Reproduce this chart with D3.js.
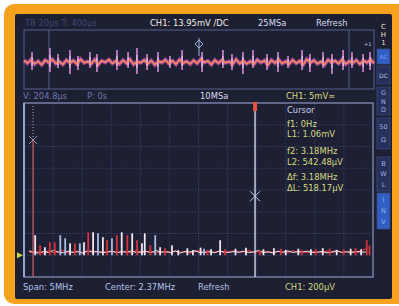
<!DOCTYPE html>
<html>
<head>
<meta charset="utf-8">
<script src="https://d3js.org/d3.v7.min.js"></script>
<style>
  body { margin: 0; background: #fff; }
  svg { display: block; font-family: "DejaVu Sans", sans-serif; }
</style>
</head>
<body>
<div id="chart"></div>
<script>
// ---- data ----
// top trace: time domain (us), spikes in mV
var spikeTimes = [4.7, 15.2, 19.9, 26.9, 31.6, 38.6, 42.7, 54.4, 60.9, 66.1, 72.0, 78.4, 85.4, 92.5, 104.2,
                  116.4, 121.7, 128.1, 134.0, 142.2, 148.6, 154.5, 162.7, 167.3, 175.0, 180.2, 186.7, 191.9, 198.4, 202.5];
var spikeUp   = [5, 7, 4, 6, 3, 5, 4, 6, 5, 7, 4, 5, 3, 6, 5, 6, 4, 5, 6, 4, 5, 3, 6, 4, 5, 4, 6, 5, 4, 5];
var spikeDown = [-4, -5, -3, -6, -4, -3, -5, -4, -3, -6, -4, -5, -3, -4, -5, -3, -4, -6, -3, -4, -5, -3, -4, -5, -3, -6, -4, -3, -5, -4];
var traceNoise = [0.8,-0.6,1.2,-1.0,0.4,-1.4,0.9,-0.3,1.3,-0.8,0.2,-1.2,1.0,-0.5,0.7,-1.1,1.4,-0.4,0.3,-0.9,
                  1.1,-1.3,0.6,-0.2,1.2,-0.7,0.5,-1.0,0.9,-0.6,1.3,-1.2,0.2,-0.4,1.0,-0.9,0.7,-1.4,0.4,-0.3,
                  1.1,-0.8,0.6,-1.1,1.2,-0.5,0.3,-1.0,0.8,-0.7,1.4,-0.2,0.5,-1.3,0.9,-0.6,1.0,-0.4,0.2,-1.2,
                  1.3,-0.8,0.6,-0.9,0.4,-1.1,1.1,-0.3,0.7,-1.4,0.9,-0.5,1.2,-0.7,0.3,-1.0,1.0,-0.6,0.5,-1.2,
                  1.4,-0.4,0.8,-0.9,0.2,-1.3,1.1,-0.2,0.6,-0.8,1.3,-1.1,0.4,-0.5,0.9,-1.0,0.7,-0.3,1.2,-0.7];

// spectrum peaks (MHz, uV)
var whiteFreq = [0.03, 0.17, 0.53, 0.73, 0.86, 1.00, 1.27, 1.42, 1.56, 1.60, 1.82, 1.99, 2.08, 2.21, 2.29, 2.40, 2.55, 2.68,
                 2.90, 3.05, 3.30, 3.45, 3.62, 3.80, 3.98, 4.15, 4.35, 4.55, 4.70];
var whiteAmp  = [184, 74, 110, 120, 211, 166, 211, 202, 110, 202, 74, 92, 46, 64, 46, 70, 55, 138,
                 60, 70, 55, 65, 50, 60, 55, 65, 50, 60, 55];
var redFreq = [0.10, 0.24, 0.31, 0.60, 0.79, 1.06, 1.20, 1.35, 1.49, 1.68, 1.89, 2.50, 2.75, 3.25, 3.55, 3.85,
               4.05, 4.25, 4.45, 4.62, 4.78, 4.82];
var redAmp  = [92, 120, 120, 110, 211, 138, 184, 184, 138, 92, 64, 50, 55, 45, 60, 50,
               55, 60, 55, 65, 138, 90];
var blueFreq = [0.39, 0.46, 0.67, 0.93, 1.13, 1.75, 2.45];
var blueAmp  = [184, 156, 110, 202, 156, 184, 60];

// noise floor, 70 bins of 0.07 MHz starting at -0.06 MHz
var floorStart = -0.06, floorStep = 0.07;
var floorRed = [30,22,35,18,40,25,28,45,20,32,38,24,30,42,26,35,22,40,30,28,36,20,44,26,32,38,22,30,35,25,
                40,28,33,20,36,42,24,30,27,38,22,34,40,26,30,45,24,32,28,36,20,38,30,25,42,28,33,22,36,30,
                26,40,24,35,30,28,38,22,45,60];
var floorWhite = [40,28,20,35,25,45,30,22,38,26,32,20,42,28,35,24,30,38,22,34,28,40,25,30,36,22,44,28,32,26,
                  38,20,35,30,42,24,28,36,22,40,30,26,34,28,38,24,32,44,26,30,22,36,28,40,25,33,30,38,24,28,
                  35,22,30,42,26,32,24,36,28,30];

// cursors
var cursorF1 = 0, cursorL1 = 1060;
var cursorF2 = 3.18, cursorL2 = 542.48;
var cursorLines = ["f1: 0Hz", "L1: 1.06mV", "f2: 3.18MHz", "L2: 542.48\u00b5V", "\u0394f: 3.18MHz", "\u0394L: 518.17\u00b5V"];
var sideButtons = [
  {label: ["A", "C"], on: true, y0: 49, y1: 64, inline: true},
  {label: ["D", "C"], on: false, y0: 66, y1: 84, inline: true},
  {label: ["G", "N", "D"], on: false, y0: 87, y1: 115},
  {label: ["50", "\u03a9"], on: false, y0: 118, y1: 149},
  {label: ["B", "W", "L"], on: false, y0: 157, y1: 191},
  {label: ["I", "N", "V"], on: true, y0: 193, y1: 229}
];

var W = 399, H = 306;
var svg = d3.select("#chart").append("svg").attr("width", W).attr("height", H);

// frame
svg.append("rect").attr("x", 4).attr("y", 4).attr("width", 410).attr("height", 300).attr("rx", 10)
  .attr("fill", "#f6a21e");
svg.append("rect").attr("x", 15).attr("y", 14).attr("width", 377).attr("height", 285).attr("rx", 2)
  .attr("fill", "#1d1f33");

var txtFont = 8.4;
function label(x, y, t, col, anchor){
  return svg.append("text").attr("x", x).attr("y", y).text(t)
    .attr("fill", col).attr("font-size", txtFont).attr("text-anchor", anchor || "start");
}

// header
label(25, 26, "TB 20\u00b5s    T: 400\u00b5s", "#3d4a78");
label(150, 26, "CH1: 13.95mV /DC", "#f2f0e6");
label(258, 26, "25MSa", "#d8dcf0");
label(316, 26, "Refresh", "#d8dcf0");

// ---- top time-domain window ----
var topBox = {x0: 24, x1: 374, y0: 30, y1: 89};
var tx = d3.scaleLinear().domain([0, 204.8]).range([topBox.x0, topBox.x1]);
var ty = d3.scaleLinear().domain([-14.5, 14.5]).range([91, 33]);

svg.append("rect").attr("x", topBox.x0).attr("y", topBox.y0).attr("width", topBox.x1 - topBox.x0).attr("height", topBox.y1 - topBox.y0)
  .attr("fill", "none").attr("stroke", "#56608a").attr("stroke-width", 1);
svg.append("line").attr("x1", 49).attr("x2", 49).attr("y1", topBox.y0).attr("y2", topBox.y1).attr("stroke", "#56608a");
svg.append("line").attr("x1", 349).attr("x2", 349).attr("y1", topBox.y0).attr("y2", topBox.y1).attr("stroke", "#56608a");

var noiseStep = 204.8 / (traceNoise.length - 1);
var traceLine = d3.line()
  .x(function(d, i){ return tx(i * noiseStep); })
  .y(function(d){ return ty(d); });

svg.append("path").datum(traceNoise).attr("d", traceLine)
  .attr("fill", "none").attr("stroke", "#c24fb4").attr("stroke-width", 4).attr("opacity", 0.75);

// spikes
var spikes = spikeTimes.map(function(t, i){ return {t: t, up: spikeUp[i], down: spikeDown[i]}; });
svg.append("g").selectAll("line").data(spikes).enter().append("line")
  .attr("x1", function(d){ return tx(d.t); })
  .attr("x2", function(d){ return tx(d.t); })
  .attr("y1", function(d){ return ty(d.up); })
  .attr("y2", function(d){ return ty(d.down); })
  .attr("stroke", "#d58ad8").attr("stroke-width", 1.6);
svg.append("g").selectAll("line").data(spikes).enter().append("line")
  .attr("x1", function(d){ return tx(d.t); })
  .attr("x2", function(d){ return tx(d.t); })
  .attr("y1", function(d){ return ty(d.up * 0.5); })
  .attr("y2", function(d){ return ty(d.down * 0.5); })
  .attr("stroke", "#f3d6f0").attr("stroke-width", 1);

svg.append("path").datum(traceNoise).attr("d", traceLine)
  .attr("fill", "none").attr("stroke", "#f07a48").attr("stroke-width", 1.6);
svg.append("path").datum(traceNoise).attr("d", traceLine)
  .attr("fill", "none").attr("stroke", "#f6c0b0").attr("stroke-width", 0.6).attr("opacity", 0.8);

// trigger marker
svg.append("line").attr("x1", 199).attr("x2", 199).attr("y1", 38).attr("y2", 56).attr("stroke", "#9fb4e0").attr("stroke-width", 1);
svg.append("path").attr("d", "M195,44 L199,40 L203,44 L199,48 Z").attr("fill", "none").attr("stroke", "#9fb4e0");
label(364, 46, "+1", "#c0c8e0").attr("font-size", 5);

// second header row
label(23, 99, "V: 204.8\u00b5s", "#6c7aa8");
label(87, 99, "P: 0s", "#6c7aa8");
label(200, 99, "10MSa", "#d8dcf0");
label(286, 99, "CH1: 5mV\u2248", "#d2dc7c");

// ---- spectrum window ----
var sp = {x0: 24, x1: 373, y0: 103, y1: 277};
var fx = d3.scaleLinear().domain([2.37 - 2.5, 2.37 + 2.5]).range([sp.x0, sp.x1]);
var fy = d3.scaleLinear().domain([-200, 1400]).range([sp.y1, sp.y0]);

var grid = svg.append("g");
grid.selectAll(".gx").data(d3.range(1, 12)).enter().append("line")
  .attr("x1", function(d){ return sp.x0 + d * (sp.x1 - sp.x0) / 12; })
  .attr("x2", function(d){ return sp.x0 + d * (sp.x1 - sp.x0) / 12; })
  .attr("y1", sp.y0).attr("y2", sp.y1)
  .attr("stroke", "#31365a").attr("stroke-width", 1).attr("stroke-dasharray", "2,1");
grid.selectAll(".gy").data(d3.range(-200, 1400, 200).slice(1)).enter().append("line")
  .attr("x1", sp.x0).attr("x2", sp.x1)
  .attr("y1", function(d){ return fy(d); })
  .attr("y2", function(d){ return fy(d); })
  .attr("stroke", "#31365a").attr("stroke-width", 1).attr("stroke-dasharray", "2,1");

svg.append("rect").attr("x", sp.x0).attr("y", sp.y0).attr("width", sp.x1 - sp.x0).attr("height", sp.y1 - sp.y0)
  .attr("fill", "none").attr("stroke", "#8d97c2").attr("stroke-width", 1.2);
svg.append("line").attr("x1", sp.x0).attr("x2", sp.x0).attr("y1", sp.y0).attr("y2", sp.y1)
  .attr("stroke", "#a6bce8").attr("stroke-width", 1.5);

// noise floors
var floorLine = d3.line()
  .x(function(d, i){ return fx(floorStart + i * floorStep); })
  .y(function(d){ return fy(d); });
svg.append("path").datum(floorRed).attr("d", floorLine)
  .attr("fill", "none").attr("stroke", "#d8343c").attr("stroke-width", 1.2);
svg.append("path").datum(floorWhite).attr("d", floorLine)
  .attr("fill", "none").attr("stroke", "#f1e4ee").attr("stroke-width", 1);

function drawPeaks(freqs, amps, col){
  var d = freqs.map(function(f, i){ return {f: f, a: amps[i]}; });
  svg.append("g").selectAll("line").data(d).enter().append("line")
    .attr("x1", function(p){ return fx(p.f); })
    .attr("x2", function(p){ return fx(p.f); })
    .attr("y1", fy(0))
    .attr("y2", function(p){ return fy(p.a); })
    .attr("stroke", col).attr("stroke-width", 1.8);
}
drawPeaks(redFreq, redAmp, "#d8343c");
drawPeaks(blueFreq, blueAmp, "#a9bfe8");
drawPeaks(whiteFreq, whiteAmp, "#f3e6ee");

// cursor 1
var c1x = fx(cursorF1), c1y = fy(cursorL1);
svg.append("line").attr("x1", c1x).attr("x2", c1x).attr("y1", sp.y0 + 3).attr("y2", c1y)
  .attr("stroke", "#b9b4cc").attr("stroke-width", 1).attr("stroke-dasharray", "1,2");
svg.append("line").attr("x1", c1x).attr("x2", c1x).attr("y1", c1y).attr("y2", sp.y1)
  .attr("stroke", "#d0646e").attr("stroke-width", 1.2);
svg.append("path").attr("d", "M" + (c1x - 4) + "," + (c1y - 4) + "L" + (c1x + 4) + "," + (c1y + 4) +
  "M" + (c1x + 4) + "," + (c1y - 4) + "L" + (c1x - 4) + "," + (c1y + 4))
  .attr("stroke", "#9a96ac").attr("stroke-width", 1);

// cursor 2
var c2x = fx(cursorF2), c2y = fy(cursorL2);
svg.append("line").attr("x1", c2x).attr("x2", c2x).attr("y1", sp.y0 + 2).attr("y2", sp.y1)
  .attr("stroke", "#dfe6f8").attr("stroke-width", 1.3);
svg.append("rect").attr("x", c2x - 2).attr("y", sp.y0 - 1).attr("width", 4).attr("height", 9)
  .attr("fill", "#e2553c");
svg.append("path").attr("d", "M" + (c2x - 5) + "," + (c2y - 5) + "L" + (c2x + 5) + "," + (c2y + 5) +
  "M" + (c2x + 5) + "," + (c2y - 5) + "L" + (c2x - 5) + "," + (c2y + 5))
  .attr("stroke", "#b8c8ec").attr("stroke-width", 1);

// ground marker
svg.append("path").attr("d", "M17," + (fy(0) - 3) + "L23," + fy(0) + "L17," + (fy(0) + 3) + "Z")
  .attr("fill", "#c8d640");

// cursor readout
label(287, 113, "Cursor", "#cdd5f2");
svg.append("g").selectAll("text").data(cursorLines).enter().append("text")
  .attr("x", 287)
  .attr("y", function(d, i){ return [127, 137, 154, 165, 180, 191][i]; })
  .text(function(d){ return d; })
  .attr("fill", "#d4dc84").attr("font-size", txtFont);

// bottom row
label(23, 290, "Span: 5MHz", "#b6c4ec");
label(105, 290, "Center: 2.37MHz", "#b6c4ec");
label(198, 290, "Refresh", "#b6c4ec");
label(285, 290, "CH1: 200\u00b5V", "#d2dc7c");

// ---- side buttons ----
var side = svg.append("g");
["C", "H", "1"].forEach(function(c, i){
  side.append("text").attr("x", 383.5).attr("y", 29 + i * 8).text(c)
    .attr("fill", "#e8e4c0").attr("font-size", 7).attr("text-anchor", "middle");
});
sideButtons.forEach(function(b){
  side.append("rect").attr("x", 377).attr("y", b.y0).attr("width", 13).attr("height", b.y1 - b.y0)
    .attr("fill", b.on ? "#2f5fc4" : "#26305a").attr("stroke", "#3c4a80").attr("stroke-width", 0.8);
  if (b.inline) {
    side.append("text").attr("x", 383.5).attr("y", (b.y0 + b.y1) / 2 + 2.5).text(b.label.join(""))
      .attr("fill", b.on ? "#6f9ef0" : "#b9c4e6").attr("font-size", 6).attr("text-anchor", "middle");
  } else {
    var n = b.label.length, step = (b.y1 - b.y0) / (n + 0.3);
    b.label.forEach(function(c, i){
      side.append("text").attr("x", 383.5).attr("y", b.y0 + step * (i + 0.5) + 4).text(c)
        .attr("fill", "#9fb0e0").attr("font-size", 6.5).attr("text-anchor", "middle");
    });
  }
});
</script>
</body>
</html>
